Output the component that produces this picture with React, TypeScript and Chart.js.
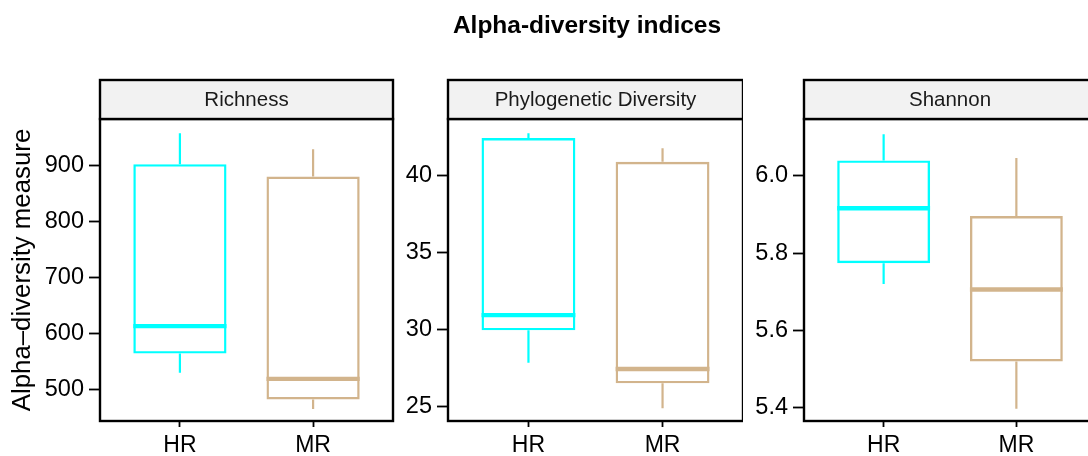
import React, { useEffect, useRef } from 'react';
import { Chart, registerables } from 'chart.js';

Chart.register(...registerables);

const FONT = '"Liberation Sans", Arial, Helvetica, sans-serif';

const GROUPS = ['HR', 'MR'];
const GROUP_COLORS = ['#00FFFF', '#D2B48C'];

// Richness
const RICH_MIN = [529.5, 464.5];
const RICH_Q1 = [563.7, 481.6];
const RICH_MED = [613, 518.5];
const RICH_Q3 = [903, 881];
const RICH_MAX = [958.6, 930];
const RICH_TICKS = [500, 600, 700, 800, 900];
const RICH_TICK_LABELS = ['500', '600', '700', '800', '900'];

// Phylogenetic Diversity
const PD_MIN = [27.85, 24.9];
const PD_Q1 = [29.94, 26.51];
const PD_MED = [30.93, 27.44];
const PD_Q3 = [42.4, 40.86];
const PD_MAX = [42.7, 41.73];
const PD_TICKS = [25, 30, 35, 40];
const PD_TICK_LABELS = ['25', '30', '35', '40'];

// Shannon
const SH_MIN = [5.72, 5.398];
const SH_Q1 = [5.774, 5.52];
const SH_MED = [5.916, 5.706];
const SH_Q3 = [6.04, 5.896];
const SH_MAX = [6.1075, 6.046];
const SH_TICKS = [5.4, 5.6, 5.8, 6.0];
const SH_TICK_LABELS = ['5.4', '5.6', '5.8', '6.0'];

const PANEL_TITLES = ['Richness', 'Phylogenetic Diversity', 'Shannon'];
const Y_TITLE = 'Alpha\u2013diversity measure';
const MAIN_TITLE = 'Alpha-diversity indices';

const BOX_WIDTH = 0.7;

type PanelDef = {
  title: string;
  min: number[];
  q1: number[];
  med: number[];
  q3: number[];
  max: number[];
  ticks: number[];
  tickLabels: string[];
  yMin: number;
  yMax: number;
  left: number;
  width: number;
  axisWidth: number;
  padRight: number;
  yTitle?: string;
};

const PANELS: PanelDef[] = [
  {
    title: PANEL_TITLES[0], min: RICH_MIN, q1: RICH_Q1, med: RICH_MED, q3: RICH_Q3, max: RICH_MAX,
    ticks: RICH_TICKS, tickLabels: RICH_TICK_LABELS, yMin: 443, yMax: 984,
    left: 0, width: 396, axisWidth: 100, padRight: 3, yTitle: Y_TITLE,
  },
  {
    title: PANEL_TITLES[1], min: PD_MIN, q1: PD_Q1, med: PD_MED, q3: PD_Q3, max: PD_MAX,
    ticks: PD_TICKS, tickLabels: PD_TICK_LABELS, yMin: 24.07, yMax: 43.63,
    left: 396, width: 347, axisWidth: 52, padRight: 0,
  },
  {
    title: PANEL_TITLES[2], min: SH_MIN, q1: SH_Q1, med: SH_MED, q3: SH_Q3, max: SH_MAX,
    ticks: SH_TICKS, tickLabels: SH_TICK_LABELS, yMin: 5.366, yMax: 6.147,
    left: 750, width: 350, axisWidth: 54, padRight: 4,
  },
];

const STRIP_H = 39;

const framePlugin = {
  id: 'frame',
  afterDraw(chart: any, _args: any, opts: any) {
    const { ctx, chartArea } = chart;
    const { left, right, top, bottom } = chartArea;
    ctx.save();
    ctx.strokeStyle = '#000';
    ctx.lineWidth = 2.4;
    ctx.strokeRect(left, top, right - left, bottom - top);
    const sTop = top - STRIP_H;
    ctx.fillStyle = '#f2f2f2';
    ctx.fillRect(left, sTop, right - left, STRIP_H);
    ctx.strokeRect(left, sTop, right - left, STRIP_H);
    ctx.fillStyle = '#1a1a1a';
    ctx.font = `20.5px ${FONT}`;
    ctx.textAlign = 'center';
    ctx.textBaseline = 'middle';
    ctx.fillText(opts.text, (left + right) / 2, sTop + STRIP_H / 2 + 0.5);
    ctx.restore();
  },
};

function buildConfig(p: PanelDef): any {
  const datasets: any[] = [];
  // whiskers
  GROUPS.forEach((_, i) => {
    datasets.push({
      type: 'line',
      data: [
        { x: i + 1, y: p.max[i] },
        { x: i + 1, y: p.q3[i] },
        { x: i + 1, y: null },
        { x: i + 1, y: p.q1[i] },
        { x: i + 1, y: p.min[i] },
      ],
      borderColor: GROUP_COLORS[i],
      borderWidth: 2.2,
      pointRadius: 0,
      spanGaps: false,
      fill: false,
      order: 3,
    });
  });
  // boxes
  datasets.push({
    type: 'bar',
    data: GROUPS.map((_, i) => ({ x: i + 1, y: [p.q1[i], p.q3[i]] })),
    borderColor: GROUP_COLORS,
    backgroundColor: 'rgba(255,255,255,0)',
    borderWidth: 2.4,
    borderSkipped: false,
    barPercentage: BOX_WIDTH,
    categoryPercentage: 1,
    order: 2,
  });
  // medians
  GROUPS.forEach((_, i) => {
    datasets.push({
      type: 'line',
      data: [
        { x: i + 1 - BOX_WIDTH / 2, y: p.med[i] },
        { x: i + 1 + BOX_WIDTH / 2, y: p.med[i] },
      ],
      borderColor: GROUP_COLORS[i],
      borderWidth: 4.4,
      borderCapStyle: 'butt',
      pointRadius: 0,
      fill: false,
      order: 1,
    });
  });

  return {
    type: 'bar',
    data: { datasets },
    plugins: [framePlugin],
    options: {
      animation: false,
      responsive: false,
      devicePixelRatio: 1,
      events: [],
      layout: { padding: { top: 119, right: p.padRight, left: 0, bottom: 0 } },
      plugins: {
        legend: { display: false },
        tooltip: { enabled: false },
        title: { display: false },
        frame: { text: p.title },
      },
      scales: {
        x: {
          type: 'linear',
          min: 0.4,
          max: 2.6,
          offset: false,
          afterBuildTicks: (s: any) => {
            s.ticks = GROUPS.map((_, i) => ({ value: i + 1 }));
          },
          afterFit: (s: any) => {
            s.height = 35;
          },
          ticks: {
            callback: (_v: any, idx: number) => GROUPS[idx],
            font: { size: 23, family: FONT },
            color: '#000',
            padding: 5,
            maxRotation: 0,
            autoSkip: false,
          },
          grid: {
            offset: false,
            drawOnChartArea: false,
            tickLength: 6,
            tickWidth: 1.8,
            tickColor: '#000',
          },
          border: { display: false },
        },
        y: {
          type: 'linear',
          min: p.yMin,
          max: p.yMax,
          afterBuildTicks: (s: any) => {
            s.ticks = p.ticks.map((v) => ({ value: v }));
          },
          afterFit: (s: any) => {
            s.width = p.axisWidth;
          },
          ticks: {
            callback: (_v: any, idx: number) => p.tickLabels[idx],
            font: { size: 23.5, family: FONT },
            color: '#000',
            padding: 5,
            autoSkip: false,
          },
          grid: {
            drawOnChartArea: false,
            tickLength: 11,
            tickWidth: 1.8,
            tickColor: '#000',
          },
          border: { display: false },
          title: p.yTitle
            ? {
                display: true,
                text: p.yTitle,
                font: { size: 25.8, family: FONT },
                color: '#000',
                padding: { top: 7.5, bottom: 0 },
              }
            : { display: false },
        },
      },
    },
  };
}

function PanelChart({ p }: { p: PanelDef }) {
  const ref = useRef<HTMLCanvasElement | null>(null);
  useEffect(() => {
    if (!ref.current) return;
    const chart = new Chart(ref.current, buildConfig(p));
    return () => chart.destroy();
  }, [p]);
  return (
    <canvas
      ref={ref}
      width={p.width}
      height={456}
      style={{ position: 'absolute', left: p.left, top: 0, width: p.width, height: 456 }}
    />
  );
}

export default function App() {
  return (
    <div
      style={{
        position: 'fixed',
        left: 0,
        top: 0,
        width: 1088,
        height: 456,
        overflow: 'hidden',
        background: '#fff',
      }}
    >
      {PANELS.map((p, i) => (
        <PanelChart key={i} p={p} />
      ))}
      <div
        style={{
          position: 'absolute',
          left: 387,
          width: 400,
          top: 9.5,
          textAlign: 'center',
          fontFamily: FONT,
          fontWeight: 'bold',
          fontSize: 24.5,
          lineHeight: '30px',
          color: '#000',
          whiteSpace: 'nowrap',
        }}
      >
        {MAIN_TITLE}
      </div>
    </div>
  );
}
